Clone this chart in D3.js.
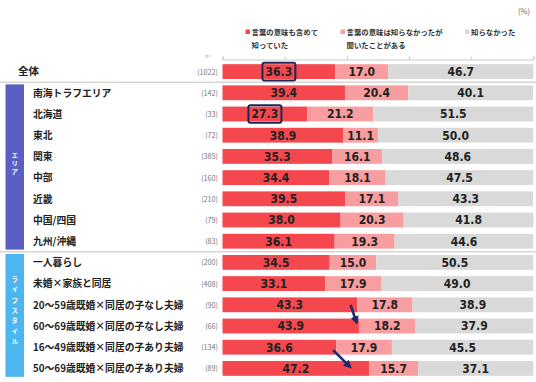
<!DOCTYPE html>
<html><head><meta charset="utf-8">
<script src="https://cdn.jsdelivr.net/npm/d3@7"></script>
<style>
html,body{margin:0;padding:0;background:#fff;}
svg{display:block;font-family:"Noto Sans CJK JP","Noto Sans",sans-serif;}
</style></head>
<body><svg id="chart" width="536" height="382"></svg>
<script>
const categories = ["全体","南海トラフエリア","北海道","東北","関東","中部","近畿","中国/四国","九州/沖縄","一人暮らし","未婚×家族と同居","20〜59歳既婚×同居の子なし夫婦","60〜69歳既婚×同居の子なし夫婦","16〜49歳既婚×同居の子あり夫婦","50〜69歳既婚×同居の子あり夫婦"];
const nCounts = [1022,142,33,72,385,160,210,79,83,200,408,90,66,134,89];
const knewMeaning = [36.3,39.4,27.3,38.9,35.3,34.4,39.5,38.0,36.1,34.5,33.1,43.3,43.9,36.6,47.2];
const heardOnly = [17.0,20.4,21.2,11.1,16.1,18.1,17.1,20.3,19.3,15.0,17.9,17.8,18.2,17.9,15.7];
const didntKnow = [46.7,40.1,51.5,50.0,48.6,47.5,43.3,41.8,44.6,50.5,49.0,38.9,37.9,45.5,37.1];
const seriesNames = [["言葉の意味も含めて","知っていた"],["言葉の意味は知らなかったが","聞いたことがある"],["知らなかった"]];
const seriesColors = ["#F4474E","#F89DA0","#D9D9D9"];
const tickValues = [0,20,40,60,80,100];
const groupNames = ["エリア","ライフスタイル"];
const groupFirst = [1,9];
const groupLast = [8,14];
const groupColors = ["#5B5FC4","#4DB6EE"];
const highlightRows = [0,2];
// arrows: [row, pct, dy]
const arrowFrom = [[11,41.2,0],[13,35.6,3]];
const arrowTo = [[12,43.2,-3],[14,41.2,-1]];

const svg = d3.select("#chart");
const x = d3.scaleLinear().domain([0,100]).range([222.5,533.3]);
const y = d3.scaleBand().domain(categories).range([61,379]).paddingInner(0.3).paddingOuter(0.15);
const yc = i => y(categories[i]) + y.bandwidth()/2;

// separators
[[0,1],[8,9]].forEach(([a,b])=>{
  const yy = (yc(a)+yc(b))/2;
  svg.append("line").attr("x1",0).attr("x2",536).attr("y1",yy).attr("y2",yy)
    .attr("stroke","#D6D6D6").attr("stroke-width",1.5);
});

// top axis
const axis = svg.append("g").attr("transform","translate(0,59.5)")
  .call(d3.axisTop(x).tickValues(tickValues).tickSize(3).tickFormat(""));
axis.select(".domain").attr("stroke","#BDBDBD").attr("stroke-width",0.8);
axis.selectAll(".tick line").attr("stroke","#BDBDBD").attr("stroke-width",0.8);
svg.append("text").attr("x",208).attr("y",58).attr("text-anchor","middle")
  .attr("font-size",5).attr("fill","#999").text("n=");

// legend
const legX = [245.5,340.5,465];
seriesNames.forEach((lines,i)=>{
  svg.append("rect").attr("x",legX[i]).attr("y",29.5).attr("width",4.5).attr("height",4.5).attr("fill",seriesColors[i]);
  lines.forEach((t,j)=>{
    svg.append("text").attr("x",legX[i]+6).attr("y",35+j*12.5)
      .attr("font-size",7.4).attr("font-weight",700).attr("fill","#333").text(t);
  });
});
svg.append("text").attr("x",530).attr("y",14).attr("text-anchor","end")
  .attr("font-size",7.5).attr("fill","#666").text("(%)");

// stacked data
const rows = categories.map((c,i)=>({cat:c, vals:[knewMeaning[i],heardOnly[i],didntKnow[i]]}));
rows.forEach((r,i)=>{
  let acc = 0;
  r.vals.forEach((v,k)=>{
    const x0 = x(acc), x1 = x(acc+v);
    svg.append("rect").attr("x",x0).attr("y",y(r.cat)).attr("width",x1-x0).attr("height",y.bandwidth())
      .attr("fill",seriesColors[k]);
    svg.append("text").attr("x",(x0+x1)/2).attr("y",yc(i)+4.4).attr("text-anchor","middle")
      .attr("font-family","'Liberation Sans Narrow','DejaVu Sans Condensed','Roboto',sans-serif")
      .attr("font-size",12).attr("font-weight",700).attr("fill","#222").text(v.toFixed(1));
    acc += v;
  });
});

// highlight boxes
highlightRows.forEach(i=>{
  const cx = x(knewMeaning[i]/2);
  svg.append("rect").attr("x",cx-16.5).attr("y",yc(i)-8.8).attr("width",33).attr("height",17.6)
    .attr("rx",2).attr("fill","none").attr("stroke","#1E2659").attr("stroke-width",2);
});

// category labels and n
categories.forEach((c,i)=>{
  svg.append("text").attr("x", i===0?18:33).attr("y",yc(i)+3.8)
    .attr("font-size", i===0?10.5:9.8).attr("font-weight",700).attr("fill","#222").text(c);
  svg.append("text").attr("x",218).attr("y",yc(i)+3).attr("text-anchor","end")
    .attr("font-size",7.2).attr("fill","#777").text("("+nCounts[i]+")");
});

// group side bars
const letterGap = [1.5,3.8];
groupNames.forEach((g,k)=>{
  const top = y(categories[groupFirst[k]]) - 1;
  const bot = y(categories[groupLast[k]]) + y.bandwidth() + 1;
  svg.append("rect").attr("x",5.5).attr("y",top).attr("width",18.5).attr("height",bot-top).attr("fill",groupColors[k]);
  svg.append("text").attr("x",14.8).attr("y",(top+bot)/2 - 3)
    .attr("text-anchor","middle").attr("font-size",6.5).attr("font-weight",700).attr("fill","#fff")
    .style("writing-mode","vertical-rl").style("letter-spacing",letterGap[k]+"px").text(g);
});

// arrows
const defs = svg.append("defs");
defs.append("marker").attr("id","ah").attr("viewBox","0 0 10 10").attr("refX",8).attr("refY",5)
  .attr("markerWidth",3.2).attr("markerHeight",3.2).attr("orient","auto")
  .append("path").attr("d","M0,0L10,5L0,10z").attr("fill","#1B2A6B");
arrowFrom.forEach((f,k)=>{
  const t = arrowTo[k];
  svg.append("line").attr("x1",x(f[1])).attr("y1",yc(f[0])+f[2]).attr("x2",x(t[1])).attr("y2",yc(t[0])+t[2])
    .attr("stroke","#1B2A6B").attr("stroke-width",2.6).attr("marker-end","url(#ah)");
});
</script></body></html>
